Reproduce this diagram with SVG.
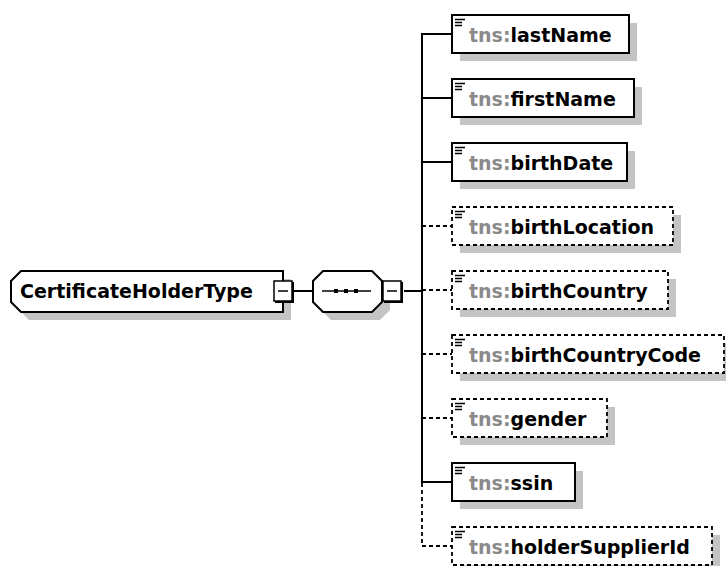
<svg xmlns="http://www.w3.org/2000/svg" width="726" height="566" viewBox="0 0 726 566">
<style>
.shadow{fill:#c4c4c4;stroke:none}
.box{fill:#fff;stroke:#000;stroke-width:2}
.opt{fill:#fff;stroke:#000;stroke-width:1.8;stroke-dasharray:4 3}
.ln{stroke:#000;stroke-width:2;fill:none}
.dln{stroke:#000;stroke-width:1.8;fill:none;stroke-dasharray:4 3}
.ico{stroke:#000;stroke-width:1.5}
.t{font-family:"DejaVu Sans",Verdana,sans-serif;font-weight:bold;font-size:19px;fill:#000}
.p{fill:#8a8a8a}
</style>
<defs>
<g id="icon"><line class="ico" x1="3" y1="4.5" x2="13" y2="4.5"/><line class="ico" x1="3" y1="7.5" x2="10" y2="7.5"/><line class="ico" x1="3" y1="10.5" x2="10" y2="10.5"/></g>
</defs>
<g id="connectors">
<line class="ln" x1="294" y1="291" x2="313" y2="291"/>
<line class="ln" x1="404" y1="291" x2="422" y2="291"/>
<line class="ln" x1="422" y1="33" x2="422" y2="483"/>
<line class="dln" x1="422" y1="483" x2="422" y2="546"/>
<line class="ln" x1="421" y1="34" x2="452" y2="34"/>
<line class="ln" x1="421" y1="98" x2="452" y2="98"/>
<line class="ln" x1="421" y1="162" x2="452" y2="162"/>
<line class="dln" x1="422" y1="226" x2="452" y2="226"/>
<line class="dln" x1="422" y1="290" x2="452" y2="290"/>
<line class="dln" x1="422" y1="354" x2="452" y2="354"/>
<line class="dln" x1="422" y1="418" x2="452" y2="418"/>
<line class="ln" x1="421" y1="482" x2="452" y2="482"/>
<line class="dln" x1="422" y1="546" x2="452" y2="546"/>
</g>
<g id="CertificateHolderType">
<polygon class="shadow" points="29,279 291,279 291,320 29,320 19,310 19,289"/>
<polygon class="box" points="21,271 283,271 283,312 21,312 11,302 11,281"/>
<text class="t" x="20" y="298">CertificateHolderType</text>
<rect x="274" y="281" width="18" height="20" fill="#fff" stroke="#000" stroke-width="1.5"/>
<path d="M293,282 V302 H275" stroke="#000" stroke-width="2" fill="none"/>
<line x1="278" y1="291" x2="288" y2="291" stroke="#000" stroke-width="1.5"/>
</g>
<g id="sequence">
<polygon class="shadow" points="331,279 380,279 390,289 390,310 380,320 331,320 321,310 321,289"/>
<polygon class="box" points="323,271 372,271 382,281 382,302 372,312 323,312 313,302 313,281"/>
<line x1="322" y1="291" x2="371" y2="291" stroke="#000" stroke-width="1.5"/>
<rect x="334" y="289" width="4" height="4" fill="#000"/>
<rect x="344" y="289" width="4" height="4" fill="#000"/>
<rect x="354" y="289" width="4" height="4" fill="#000"/>
<rect x="383" y="281" width="18" height="20" fill="#fff" stroke="#000" stroke-width="1.5"/>
<path d="M402,282 V302 H384" stroke="#000" stroke-width="2" fill="none"/>
<line x1="387" y1="291" x2="397" y2="291" stroke="#000" stroke-width="1.5"/>
</g>
<g id="lastName">
<rect class="shadow" x="460" y="23" width="177" height="38"/>
<rect class="box" x="452" y="15" width="177" height="38"/>
<use href="#icon" x="452" y="15"/>
<text class="t" x="469" y="42"><tspan class="p">tns:</tspan>lastName</text>
</g>
<g id="firstName">
<rect class="shadow" x="460" y="87" width="182" height="38"/>
<rect class="box" x="452" y="79" width="182" height="38"/>
<use href="#icon" x="452" y="79"/>
<text class="t" x="469" y="106"><tspan class="p">tns:</tspan>firstName</text>
</g>
<g id="birthDate">
<rect class="shadow" x="460" y="151" width="175" height="38"/>
<rect class="box" x="452" y="143" width="175" height="38"/>
<use href="#icon" x="452" y="143"/>
<text class="t" x="469" y="170"><tspan class="p">tns:</tspan>birthDate</text>
</g>
<g id="birthLocation">
<rect class="shadow" x="460" y="215" width="221" height="38"/>
<rect class="opt" x="452" y="207" width="221" height="38"/>
<use href="#icon" x="452" y="207"/>
<text class="t" x="469" y="234"><tspan class="p">tns:</tspan>birthLocation</text>
</g>
<g id="birthCountry">
<rect class="shadow" x="460" y="279" width="216" height="38"/>
<rect class="opt" x="452" y="271" width="216" height="38"/>
<use href="#icon" x="452" y="271"/>
<text class="t" x="469" y="298"><tspan class="p">tns:</tspan>birthCountry</text>
</g>
<g id="birthCountryCode">
<rect class="shadow" x="460" y="343" width="272" height="38"/>
<rect class="opt" x="452" y="335" width="272" height="38"/>
<use href="#icon" x="452" y="335"/>
<text class="t" x="469" y="362"><tspan class="p">tns:</tspan>birthCountryCode</text>
</g>
<g id="gender">
<rect class="shadow" x="460" y="407" width="155" height="38"/>
<rect class="opt" x="452" y="399" width="155" height="38"/>
<use href="#icon" x="452" y="399"/>
<text class="t" x="469" y="426"><tspan class="p">tns:</tspan>gender</text>
</g>
<g id="ssin">
<rect class="shadow" x="460" y="471" width="123" height="38"/>
<rect class="box" x="452" y="463" width="123" height="38"/>
<use href="#icon" x="452" y="463"/>
<text class="t" x="469" y="490"><tspan class="p">tns:</tspan>ssin</text>
</g>
<g id="holderSupplierId">
<rect class="shadow" x="460" y="535" width="260" height="38"/>
<rect class="opt" x="452" y="527" width="260" height="38"/>
<use href="#icon" x="452" y="527"/>
<text class="t" x="469" y="554"><tspan class="p">tns:</tspan>holderSupplierId</text>
</g>
</svg>
